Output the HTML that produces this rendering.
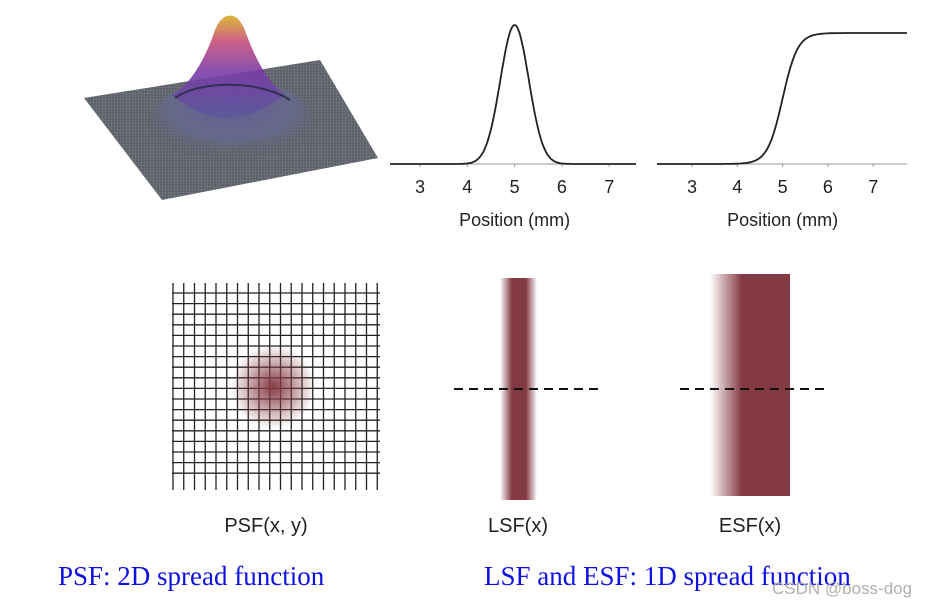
<!DOCTYPE html>
<html><head><meta charset="utf-8"><style>
body{margin:0;background:#fff;width:941px;height:608px;overflow:hidden;position:relative;font-family:"Liberation Sans",Arial,sans-serif}
svg{position:absolute;left:0;top:0}
</style></head><body>
<svg width="941" height="608" viewBox="0 0 941 608">
<defs>
<linearGradient id="bump" x1="0" y1="0" x2="0" y2="1">
<stop offset="0" stop-color="#d8b020"/><stop offset="0.25" stop-color="#c8507a"/><stop offset="0.55" stop-color="#7a3aa8"/><stop offset="1" stop-color="#5a5a9a"/>
</linearGradient>
<radialGradient id="dome" cx="0.5" cy="0.3" r="0.6"><stop offset="0" stop-color="#6a5aa0"/><stop offset="0.6" stop-color="#666a90"/><stop offset="1" stop-color="#5d6068" stop-opacity="0"/></radialGradient>
<radialGradient id="blob"><stop offset="0" stop-color="#843a43" stop-opacity="1"/><stop offset="0.5" stop-color="#843a43" stop-opacity="0.5"/><stop offset="1" stop-color="#843a43" stop-opacity="0"/></radialGradient>
<linearGradient id="lsf" x1="0" x2="1"><stop offset="0" stop-color="#843a43" stop-opacity="0"/><stop offset="0.32" stop-color="#843a43"/><stop offset="0.7" stop-color="#843a43"/><stop offset="1" stop-color="#843a43" stop-opacity="0"/></linearGradient>
<linearGradient id="esf" x1="0" x2="1"><stop offset="0" stop-color="#843a43" stop-opacity="0"/><stop offset="0.4" stop-color="#843a43"/><stop offset="1" stop-color="#843a43"/></linearGradient>
<pattern id="mesh" width="3" height="3" patternUnits="userSpaceOnUse"><rect width="3" height="3" fill="#5d6068"/><path d="M0 0H3M0 0V3" stroke="#8a8d94" stroke-width="0.6"/></pattern>
</defs>
<g>
<polygon points="84,98 320,60 378,158 162,200" fill="url(#mesh)"/>
<ellipse cx="232" cy="125" rx="85" ry="45" fill="url(#dome)" opacity="0.8"/>
<path d="M172,95 C190,85 205,60 215,30 C222,12 236,10 244,28 C254,55 265,80 285,95 C265,110 240,120 220,118 C200,115 185,105 172,95Z" fill="url(#bump)" opacity="0.9"/>
<path d="M175,98 C200,80 260,80 290,100" fill="none" stroke="#303050" stroke-width="2"/>
</g>
<g id="grid" stroke="#222" stroke-width="1.3"></g>
<circle cx="273" cy="387" r="42" fill="url(#blob)"/>
<g id="charts"></g>
<rect x="500" y="278" width="37" height="222" fill="url(#lsf)"/>
<rect x="710" y="274" width="80" height="222" fill="url(#esf)"/>
<line x1="454" y1="389" x2="600" y2="389" stroke="#111" stroke-width="2" stroke-dasharray="9,6"/>
<line x1="680" y1="389" x2="826" y2="389" stroke="#111" stroke-width="2" stroke-dasharray="9,6"/>
<text x="266" y="532" font-size="20" text-anchor="middle" fill="#222">PSF(x, y)</text>
<text x="518" y="532" font-size="20" text-anchor="middle" fill="#222">LSF(x)</text>
<text x="750" y="532" font-size="20" text-anchor="middle" fill="#222">ESF(x)</text>
<text x="58" y="585" font-size="27" fill="#1010e0" font-family="Liberation Serif,serif">PSF: 2D spread function</text>
<text x="484" y="585" font-size="27" fill="#1010e0" font-family="Liberation Serif,serif">LSF and ESF: 1D spread function</text>
<text x="772" y="594" font-size="17" fill="#b0b0b0">CSDN @boss-dog</text>
</svg>
<script>
const NS="http://www.w3.org/2000/svg";
const ticks=[3,4,5,6,7];
const lsfMu=[5.0], lsfSigma=[0.3];
const esfCenter=[5.0], esfWidth=[0.3];
const g=document.getElementById('grid');
for(let i=0;i<20;i++){const x=173+i*10.75;const l=document.createElementNS(NS,'line');


l.setAttribute('x1',x);l.setAttribute('x2',x);l.setAttribute('y1',283);l.setAttribute('y2',490);g.appendChild(l);}
for(let i=0;i<18;i++){const y=293+i*10.6;const l=document.createElementNS(NS,'line');


l.setAttribute('x1',172);l.setAttribute('x2',380);l.setAttribute('y1',y);l.setAttribute('y2',y);g.appendChild(l);}
function chart(name,x3,unit,xa,xb,top,fn){
 const c=document.getElementById('charts');const grp=document.createElementNS(NS,'g');
 
 
 c.appendChild(grp);
 const sx=v=>x3+(v-3)*unit, base=164;
 const ax=document.createElementNS(NS,'line');
 
 
 ax.setAttribute('x1',xa);ax.setAttribute('x2',xb);ax.setAttribute('y1',base);ax.setAttribute('y2',base);ax.setAttribute('stroke','#999');grp.appendChild(ax);
 ticks.forEach(t=>{const tk=document.createElementNS(NS,'line');
  
  
  tk.setAttribute('x1',sx(t));tk.setAttribute('x2',sx(t));tk.setAttribute('y1',base);tk.setAttribute('y2',base+3);tk.setAttribute('stroke','#999');grp.appendChild(tk);
  const tx=document.createElementNS(NS,'text');
  
  
  tx.setAttribute('x',sx(t));tx.setAttribute('y',193);tx.setAttribute('font-size','18');tx.setAttribute('text-anchor','middle');tx.setAttribute('fill','#222');tx.textContent=t;grp.appendChild(tx);});
 const tt=document.createElementNS(NS,'text');
 
 
 tt.setAttribute('x',sx(5));tt.setAttribute('y',226);tt.setAttribute('font-size','18');tt.setAttribute('text-anchor','middle');tt.setAttribute('fill','#222');tt.textContent='Position (mm)';grp.appendChild(tt);
 let d='';const v0=3-(x3-xa)/unit, v1=3+(xb-x3)/unit;
 for(let i=0;i<=300;i++){const v=v0+(v1-v0)*i/300;const y=base-fn(v)*(base-top);d+=(i?'L':'M')+sx(v).toFixed(1)+','+y.toFixed(1);}
 const p=document.createElementNS(NS,'path');
 
 
 p.setAttribute('d',d);p.setAttribute('fill','none');p.setAttribute('stroke','#222');p.setAttribute('stroke-width','1.8');grp.appendChild(p);
}
chart('lsf-plot',420,47.3,390,636,25,v=>Math.exp(-Math.pow(v-lsfMu[0],2)/(2*lsfSigma[0]*lsfSigma[0])));
chart('esf-plot',692,45.3,657,907,33,v=>{const z=(v-esfCenter[0])/esfWidth[0];return 0.5*(1+Math.tanh(z*0.9));});
</script>
</body></html>
